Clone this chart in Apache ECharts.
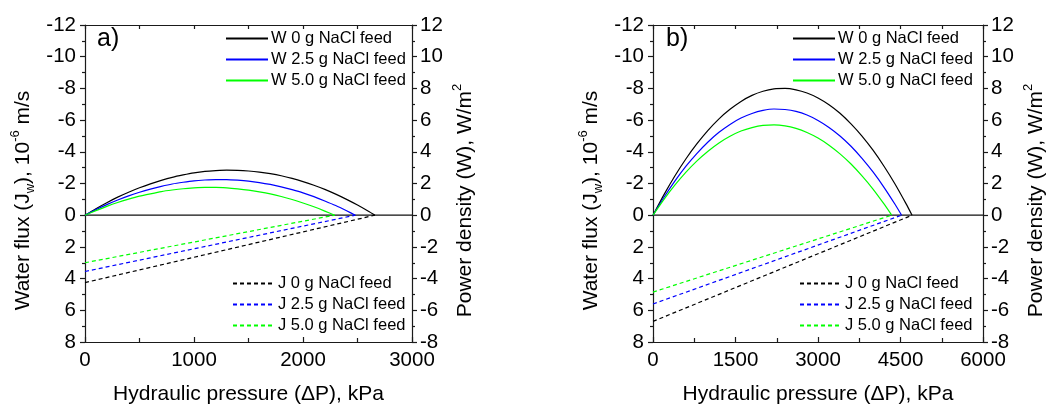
<!DOCTYPE html>
<html>
<head>
<meta charset="utf-8">
<script src="https://cdn.jsdelivr.net/npm/echarts@6/dist/echarts.min.js"></script>
<style>
  html, body { margin: 0; padding: 0; background: #fff; }
  #chart { width: 1050px; height: 406px; }
</style>
</head>
<body>
<div id="chart"></div>
<script>
// ---- Panel a: power density W (W/m²) vs hydraulic pressure (kPa), 100 kPa steps ----
const pA = [0, 100, 200, 300, 400, 500, 600, 700, 800, 900, 1000, 1100, 1200, 1300,
            1400, 1500, 1600, 1700, 1800, 1900, 2000, 2100, 2200, 2300, 2400, 2500, 2600];
const wA0  = [0, 0.41, 0.79, 1.14, 1.45, 1.73, 1.98, 2.20, 2.39, 2.54, 2.67, 2.76, 2.81, 2.84,
              2.83, 2.79, 2.72, 2.62, 2.49, 2.32, 2.12, 1.89, 1.63, 1.33, 1.00, 0.64, 0.25];
const wA25 = [0, 0.35, 0.67, 0.96, 1.22, 1.45, 1.65, 1.82, 1.97, 2.08, 2.17, 2.22, 2.25, 2.25,
              2.21, 2.15, 2.06, 1.94, 1.79, 1.61, 1.41, 1.17, 0.90, 0.61, 0.28];
const wA50 = [0, 0.29, 0.56, 0.80, 1.01, 1.20, 1.35, 1.49, 1.59, 1.67, 1.72, 1.75, 1.75, 1.72,
              1.66, 1.58, 1.47, 1.34, 1.18, 0.99, 0.77, 0.53, 0.26];
// pressure at which each power curve returns to zero
const wAEnd = [2660, 2480, 2290];
// water flux J (10^-6 m/s): straight lines from P = 0 to the zero-flux pressure
const jAP = [[0, 2660], [0, 2480], [0, 2290]];
const jA  = [[4.25, 0], [3.55, 0], [3.0, 0]];

// ---- Panel b: 200 kPa steps ----
const pB = [0, 200, 400, 600, 800, 1000, 1200, 1400, 1600, 1800, 2000, 2200, 2400,
            2600, 2800, 3000, 3200, 3400, 3600, 3800, 4000, 4200, 4400, 4600];
const wB0  = [0, 1.30, 2.49, 3.56, 4.51, 5.35, 6.08, 6.68, 7.18, 7.56, 7.82, 7.97, 8.00,
              7.91, 7.71, 7.40, 6.97, 6.43, 5.76, 4.99, 4.10, 3.09, 1.97, 0.73];
const wB25 = [0, 1.13, 2.16, 3.09, 3.90, 4.62, 5.23, 5.73, 6.13, 6.42, 6.61, 6.70, 6.67,
              6.55, 6.32, 5.98, 5.54, 5.00, 4.35, 3.59, 2.73, 1.76, 0.69];
const wB50 = [0, 1.00, 1.91, 2.72, 3.43, 4.04, 4.56, 4.98, 5.31, 5.53, 5.67, 5.70, 5.64,
              5.48, 5.22, 4.87, 4.42, 3.87, 3.23, 2.48, 1.65, 0.71];
const wBEnd = [4710, 4520, 4340];
const jBP = [[0, 4710], [0, 4520], [0, 4340]];
const jB  = [[6.7, 0], [5.6, 0], [4.85, 0]];

// ---- Labels and axis settings ----
const feeds = ['0', '2.5', '5.0'];
const colors = ['#000000', '#0000ff', '#00ff00'];
const wNames = feeds.map(f => 'W ' + f + ' g NaCl feed');
const jNames = feeds.map(f => 'J ' + f + ' g NaCl feed');
const xMaxA = 3000, xStepA = 1000;
const xMaxB = 6000, xStepB = 1500;
const fluxMin = -12, fluxMax = 8;
const powerMin = -8, powerMax = 12;
const yStep = 2;
const panelTags = ['a)', 'b)'];

const FONT = "'Liberation Sans', Arial, sans-serif";
const AX = '#1a1a1a';
const TICK_FS = 20.5;
const NAME_FS = 21;

function zip(xs, ys) { return ys.map((y, i) => [xs[i], y]); }

const grids = [
  { left: 85, right: 638, top: 25, bottom: 64, outerBoundsMode: 'none', containLabel: false },
  { left: 653, right: 67, top: 25, bottom: 64, outerBoundsMode: 'none', containLabel: false }
];

function bottomX(gi, max, step) {
  return {
    type: 'value', gridIndex: gi, position: 'bottom', min: 0, max: max, interval: step,
    name: 'Hydraulic pressure (ΔP), kPa', nameLocation: 'middle', nameGap: 42,
    nameMoveOverlap: false,
    nameTextStyle: { fontFamily: FONT, fontSize: NAME_FS, color: '#000' },
    axisLine: { show: true, onZero: false, lineStyle: { color: AX, width: 1.2 } },
    axisTick: { show: true, inside: true, length: 5, lineStyle: { color: AX, width: 1.2 } },
    minorTick: { show: true, splitNumber: 2, length: 4, lineStyle: { color: AX, width: 1.2 } },
    axisLabel: { fontFamily: FONT, fontSize: TICK_FS, color: '#000', margin: 8, formatter: v => String(v) },
    splitLine: { show: false }
  };
}
function topX(gi, max, step) {
  return {
    type: 'value', gridIndex: gi, position: 'top', min: 0, max: max, interval: step / 2,
    axisLine: { show: true, onZero: false, lineStyle: { color: AX, width: 1.2 } },
    axisTick: { show: true, inside: true, length: 4, lineStyle: { color: AX, width: 1.2 } },
    axisLabel: { show: false },
    splitLine: { show: false }
  };
}
function leftY(gi) {
  return {
    type: 'value', gridIndex: gi, position: 'left', inverse: true,
    min: fluxMin, max: fluxMax, interval: yStep,
    name: 'Water flux (J{sub|w}), 10{sup|-6} m/s', nameLocation: 'middle', nameGap: 48,
    nameRotate: 90, nameMoveOverlap: false,
    nameTextStyle: {
      fontFamily: FONT, fontSize: NAME_FS, color: '#000', lineHeight: 28,
      padding: [0, 34, 0, 0],
      rich: {
        sub: { fontFamily: FONT, fontSize: 13, lineHeight: 13, verticalAlign: 'bottom', color: '#000' },
        sup: { fontFamily: FONT, fontSize: 13, lineHeight: 13, verticalAlign: 'top', color: '#000' }
      }
    },
    axisLine: { show: true, onZero: false, lineStyle: { color: AX, width: 1.2 } },
    axisTick: { show: true, inside: false, length: 5, lineStyle: { color: AX, width: 1.2 } },
    minorTick: { show: true, splitNumber: 2, length: 3, lineStyle: { color: AX, width: 1.2 } },
    axisLabel: { fontFamily: FONT, fontSize: TICK_FS, color: '#000', margin: 9 },
    splitLine: { show: false }
  };
}
function rightY(gi) {
  return {
    type: 'value', gridIndex: gi, position: 'right',
    min: powerMin, max: powerMax, interval: yStep,
    name: 'Power density (W), W/m{sup|2}', nameLocation: 'middle', nameGap: 39,
    nameRotate: 90, nameMoveOverlap: false,
    nameTextStyle: {
      fontFamily: FONT, fontSize: NAME_FS, color: '#000', lineHeight: 28,
      padding: [0, 34, 0, 0],
      rich: {
        sup: { fontFamily: FONT, fontSize: 13, lineHeight: 13, verticalAlign: 'top', color: '#000' }
      }
    },
    axisLine: { show: true, onZero: false, lineStyle: { color: AX, width: 1.2 } },
    axisTick: { show: true, inside: false, length: 5, lineStyle: { color: AX, width: 1.2 } },
    minorTick: { show: true, splitNumber: 2, length: 3, lineStyle: { color: AX, width: 1.2 } },
    axisLabel: { fontFamily: FONT, fontSize: TICK_FS, color: '#000', margin: 8 },
    splitLine: { show: false }
  };
}

const series = [];
function addPanel(gi, pGrid, wSets, wEnd, jP, jV, xMax) {
  const xb = gi * 2, yl = gi * 2, yr = gi * 2 + 1;
  // zero reference line across the plot
  series.push({
    type: 'line', xAxisIndex: xb, yAxisIndex: yr, data: [[0, 0], [xMax, 0]],
    symbol: 'none', silent: true, lineStyle: { color: '#111', width: 1.2 }, z: 1
  });
  wSets.forEach((w, i) => {
    const pts = zip(pGrid, w);
    pts.push([wEnd[i], 0]);
    series.push({
      name: wNames[i], type: 'line', xAxisIndex: xb, yAxisIndex: yr,
      data: pts, smooth: 0.2, symbol: 'none',
      itemStyle: { color: colors[i] },
      lineStyle: { color: colors[i], width: 1.2 }, z: 3
    });
  });
  jP.forEach((xs, i) => {
    series.push({
      name: jNames[i], type: 'line', xAxisIndex: xb, yAxisIndex: yl,
      data: zip(xs, jV[i]), symbol: 'none',
      itemStyle: { color: colors[i] },
      lineStyle: { color: colors[i], width: 1.2, type: [4, 3] }, z: 2
    });
  });
}
addPanel(0, pA, [wA0, wA25, wA50], wAEnd, jAP, jA, xMaxA);
addPanel(1, pB, [wB0, wB25, wB50], wBEnd, jBP, jB, xMaxB);

function legend(names, left, top) {
  return {
    show: true, orient: 'vertical', left: left, top: top, data: names,
    itemWidth: 42, itemHeight: 14, itemGap: 4, selectedMode: false,
    itemStyle: { opacity: 0 },
    textStyle: { fontFamily: FONT, fontSize: 16.5, color: '#000', padding: [0, 0, 0, -2] },
    padding: 0
  };
}

const option = {
  animation: false,
  backgroundColor: '#fff',
  grid: grids,
  xAxis: [bottomX(0, xMaxA, xStepA), topX(0, xMaxA, xStepA), bottomX(1, xMaxB, xStepB), topX(1, xMaxB, xStepB)],
  yAxis: [leftY(0), rightY(0), leftY(1), rightY(1)],
  legend: [
    legend(wNames, 225, 30),
    legend(jNames, 232, 275),
    legend(wNames, 792, 30),
    legend(jNames, 799, 275)
  ],
  graphic: [
    { type: 'text', left: 97, top: 27, style: { text: panelTags[0], font: '25px ' + FONT, fill: '#000' } },
    { type: 'text', left: 666, top: 27, style: { text: panelTags[1], font: '25px ' + FONT, fill: '#000' } }
  ],
  series: series
};

const chart = echarts.init(document.getElementById('chart'), null, { renderer: 'canvas' });
chart.setOption(option);
</script>
</body>
</html>
